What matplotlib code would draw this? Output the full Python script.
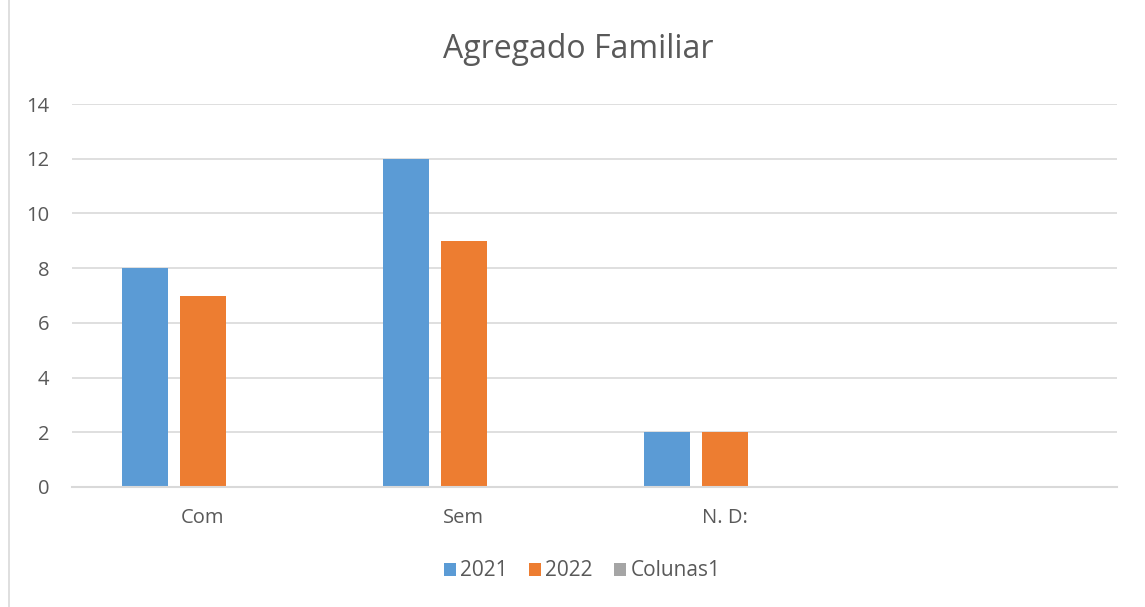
import matplotlib
matplotlib.use("Agg")
import matplotlib.pyplot as plt
import numpy as np
from matplotlib.patches import Patch
from matplotlib.lines import Line2D

categories = ["Com", "Sem", "N. D:", ""]
series_names = ["2021", "2022", "Colunas1"]
values_2021 = [8, 12, 2, 0]
values_2022 = [7, 9, 2, 0]
values_col1 = [0, 0, 0, 0]
colors = ["#5B9BD5", "#ED7D31", "#A5A5A5"]
yticks = [0, 2, 4, 6, 8, 10, 12, 14]

plt.rcParams['font.family'] = ['Open Sans', 'DejaVu Sans']
txt = "#595959"

W, H = 1145, 607
fig = plt.figure(figsize=(W / 100, H / 100), dpi=100)
ax = fig.add_axes([72 / W, (H - 487) / H, (1117 - 72) / W, (487 - 104) / H])

x = np.arange(len(categories))
bw = 46 / 261
off = 58 / 261
for i, (vals, c) in enumerate(zip([values_2021, values_2022, values_col1], colors)):
    ax.bar(x + (i - 1) * off, vals, width=bw, color=c, zorder=3)

ax.set_xlim(-0.5, len(categories) - 0.5)
ax.set_ylim(0, 14)
ax.set_yticks(yticks)
ax.set_yticklabels([str(v) for v in yticks], color=txt, fontsize=14.5)
ax.set_xticks(x)
ax.set_xticklabels(categories, color=txt, fontsize=14.5)
ax.tick_params(axis='both', length=0)
ax.tick_params(axis='y', pad=16.5)
ax.tick_params(axis='x', pad=15)
ax.grid(axis='y', color="#D9D9D9", linewidth=1.2, zorder=0)
for s in ["top", "right", "left"]:
    ax.spines[s].set_visible(False)
ax.spines["bottom"].set_color("#D9D9D9")
ax.spines["bottom"].set_linewidth(1.5)
ax.spines["bottom"].set_zorder(4)

fig.text(578 / W, 1 - 49 / H, "Agregado Familiar", ha='center', va='center', fontsize=23, color=txt)

handles = [Patch(facecolor=c, edgecolor='none') for c in colors]
fig.legend(handles, series_names, loc='center', bbox_to_anchor=(582 / W, 1 - 571 / H), ncol=3,
           frameon=False, fontsize=15, labelcolor=txt, handlelength=0.6, handleheight=0.6,
           handletextpad=0.2, columnspacing=1.0)

fig.add_artist(Line2D([8.5 / W, 8.5 / W], [0, 1], transform=fig.transFigure, color="#D9D9D9", linewidth=1.2))

fig.savefig("out.png", dpi=100)
